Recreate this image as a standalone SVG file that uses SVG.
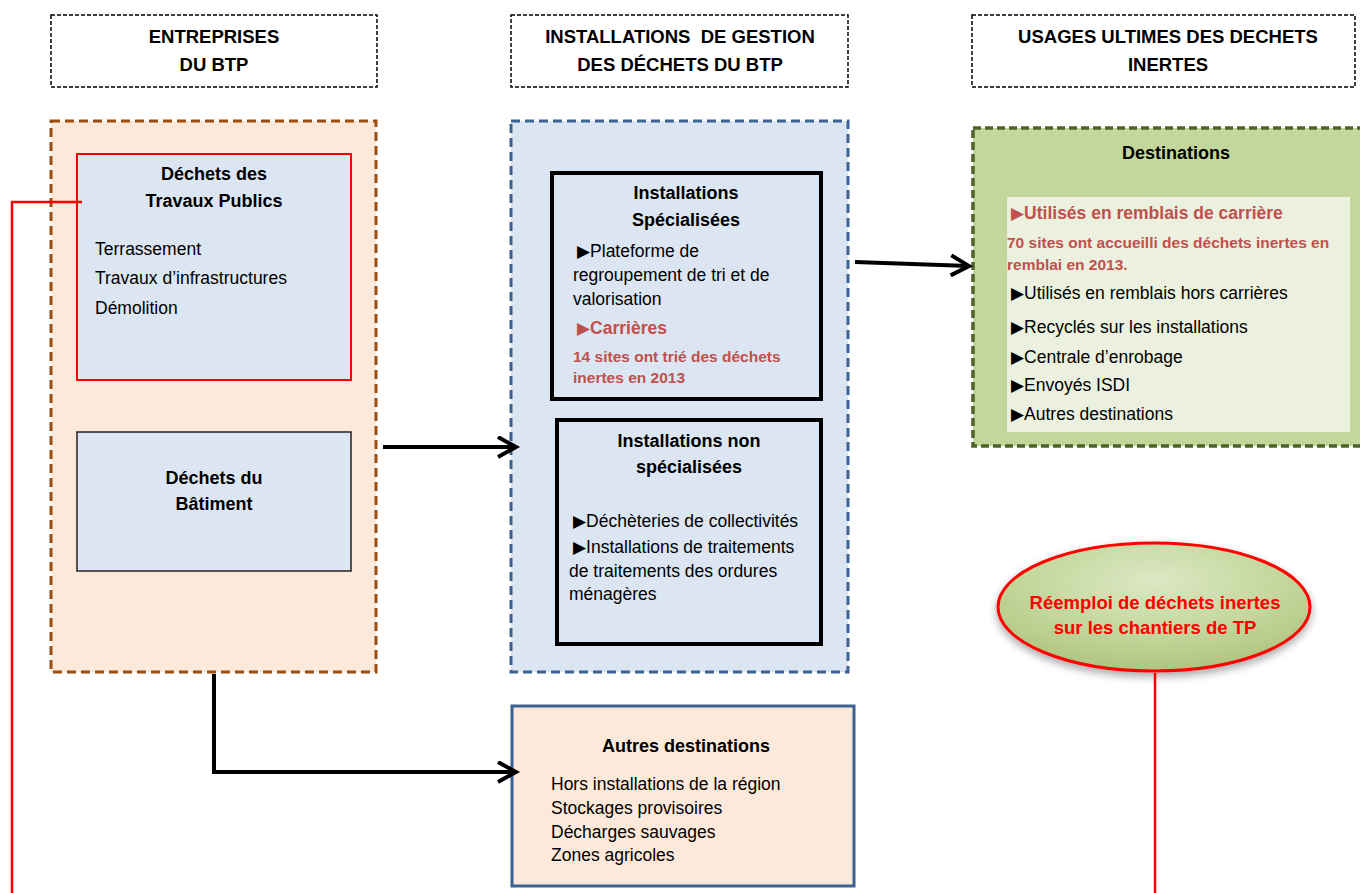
<svg xmlns="http://www.w3.org/2000/svg" width="1360" height="893" viewBox="0 0 1360 893">
<style>
text{font-family:"Liberation Sans",Arial,sans-serif;fill:#000}
.hd{font-size:18.5px;font-weight:bold;text-anchor:middle}
.tt{font-size:18px;font-weight:bold;text-anchor:middle}
.bd{font-size:17.5px}
.rb{font-size:17.5px;font-weight:bold;fill:#C0504D}
.rs{font-size:15.5px;font-weight:bold;fill:#C0504D}
.bl{font-family:"DejaVu Sans",sans-serif;font-size:17px;font-weight:normal}
.hbox{fill:#fff;stroke:#000;stroke-width:1.5;stroke-dasharray:4 2}
.conn{fill:none;stroke:#000;stroke-width:4}
.red{fill:none;stroke:#FF0000;stroke-width:2.5}
</style>
<defs>
<marker id="ah" markerUnits="userSpaceOnUse" markerWidth="26" markerHeight="26" refX="20" refY="11" orient="auto">
<path d="M2,1 L20,11 L2,21" fill="none" stroke="#000" stroke-width="4" stroke-linejoin="miter"/>
</marker>
<radialGradient id="eg" cx="50%" cy="30%" r="70%">
<stop offset="0" stop-color="#DCE8C4"/>
<stop offset="0.6" stop-color="#C3D69B"/>
<stop offset="1" stop-color="#AFC47F"/>
</radialGradient>
<filter id="sh" x="-20%" y="-20%" width="140%" height="150%">
<feDropShadow dx="0" dy="4" stdDeviation="4" flood-color="#000" flood-opacity="0.35"/>
</filter>
</defs>

<g id="header-entreprises">
<rect class="hbox" x="51" y="15" width="326" height="72"/>
<text class="hd" x="214" y="43">ENTREPRISES</text>
<text class="hd" x="214" y="71">DU BTP</text>
</g>
<g id="header-installations">
<rect class="hbox" x="511" y="15" width="337" height="72"/>
<text class="hd" x="680" y="43" xml:space="preserve">INSTALLATIONS  DE GESTION</text>
<text class="hd" x="680" y="71">DES DÉCHETS DU BTP</text>
</g>
<g id="header-usages">
<rect class="hbox" x="972" y="15" width="383" height="72"/>
<text class="hd" x="1168" y="43">USAGES ULTIMES DES DECHETS</text>
<text class="hd" x="1168" y="71">INERTES</text>
</g>

<g id="entreprises">
<rect x="51" y="121" width="325" height="551" fill="#FDE9D9" stroke="#9C4E10" stroke-width="3" stroke-dasharray="9 5"/>
</g>
<g id="travaux-publics">
<rect x="77" y="154" width="274" height="226" fill="#DCE6F2" stroke="#FF0000" stroke-width="2"/>
<text class="tt" x="214" y="180">Déchets des</text>
<text class="tt" x="214" y="207">Travaux Publics</text>
<text class="bd" x="95" y="255">Terrassement</text>
<text class="bd" x="95" y="284">Travaux d’infrastructures</text>
<text class="bd" x="95" y="314">Démolition</text>
</g>
<g id="batiment">
<rect x="77" y="432" width="274" height="139" fill="#DCE6F2" stroke="#222" stroke-width="1.5"/>
<text class="tt" x="214" y="484">Déchets du</text>
<text class="tt" x="214" y="510">Bâtiment</text>
</g>

<g id="installations">
<rect x="511" y="121" width="337" height="551" fill="#DCE6F2" stroke="#3B6293" stroke-width="3" stroke-dasharray="9 5"/>
</g>
<g id="specialisees">
<rect x="552" y="173" width="269" height="226" fill="#DCE6F2" stroke="#000" stroke-width="4"/>
<text class="tt" x="686" y="199">Installations</text>
<text class="tt" x="686" y="226">Spécialisées</text>
<text class="bd" x="577" y="257"><tspan class="bl">▶</tspan>Plateforme de</text>
<text class="bd" x="573" y="281">regroupement de tri et de</text>
<text class="bd" x="573" y="305">valorisation</text>
<text class="rb" x="577" y="334"><tspan class="bl" style="fill:#C0504D">▶</tspan>Carrières</text>
<text class="rs" x="573" y="362">14 sites ont trié des déchets</text>
<text class="rs" x="573" y="383">inertes en 2013</text>
</g>
<g id="non-specialisees">
<rect x="557" y="420" width="264" height="224" fill="#DCE6F2" stroke="#000" stroke-width="4"/>
<text class="tt" x="689" y="447">Installations non</text>
<text class="tt" x="689" y="473">spécialisées</text>
<text class="bd" x="573" y="527"><tspan class="bl">▶</tspan>Déchèteries de collectivités</text>
<text class="bd" x="573" y="553"><tspan class="bl">▶</tspan>Installations de traitements</text>
<text class="bd" x="569" y="577">de traitements des ordures</text>
<text class="bd" x="569" y="600">ménagères</text>
</g>

<g id="autres-destinations">
<rect x="512" y="706" width="342" height="180" fill="#FDE9D9" stroke="#3B6293" stroke-width="3"/>
<text class="tt" x="686" y="752">Autres destinations</text>
<text class="bd" x="551" y="790">Hors installations de la région</text>
<text class="bd" x="551" y="814">Stockages provisoires</text>
<text class="bd" x="551" y="838">Décharges sauvages</text>
<text class="bd" x="551" y="861">Zones agricoles</text>
</g>

<g id="destinations">
<rect x="973" y="128" width="395" height="318" fill="#C3D69B" stroke="#4F6228" stroke-width="3.5" stroke-dasharray="8 4"/>
<text class="tt" x="1176" y="159">Destinations</text>
<rect x="1007" y="197" width="343" height="235" fill="#EBF1DE"/>
<text class="rb" x="1011" y="219"><tspan class="bl" style="fill:#C0504D">▶</tspan>Utilisés en remblais de carrière</text>
<text class="rs" x="1007" y="248">70 sites ont accueilli des déchets inertes en</text>
<text class="rs" x="1007" y="270">remblai en 2013.</text>
<text class="bd" x="1011" y="299"><tspan class="bl">▶</tspan>Utilisés en remblais hors carrières</text>
<text class="bd" x="1011" y="333"><tspan class="bl">▶</tspan>Recyclés sur les installations</text>
<text class="bd" x="1011" y="363"><tspan class="bl">▶</tspan>Centrale d’enrobage</text>
<text class="bd" x="1011" y="391"><tspan class="bl">▶</tspan>Envoyés ISDI</text>
<text class="bd" x="1011" y="420"><tspan class="bl">▶</tspan>Autres destinations</text>
</g>

<g id="reemploi">
<ellipse cx="1154" cy="607" rx="156" ry="64" fill="url(#eg)" stroke="#FF0000" stroke-width="3" filter="url(#sh)"/>
<text class="tt" x="1155" y="609" style="fill:#FF0000;font-size:18.5px">Réemploi de déchets inertes</text>
<text class="tt" x="1155" y="634" style="fill:#FF0000;font-size:18.5px">sur les chantiers de TP</text>
</g>

<g id="connectors">
<line class="conn" x1="383" y1="447" x2="516" y2="447" marker-end="url(#ah)"/>
<line class="conn" x1="855" y1="262" x2="969" y2="266" marker-end="url(#ah)"/>
<polyline class="conn" points="214,674 214,772 516,772" marker-end="url(#ah)"/>
<polyline class="red" points="82,202 12,202 12,893"/>
<line class="red" x1="1155" y1="673" x2="1155" y2="893"/>
</g>
</svg>
